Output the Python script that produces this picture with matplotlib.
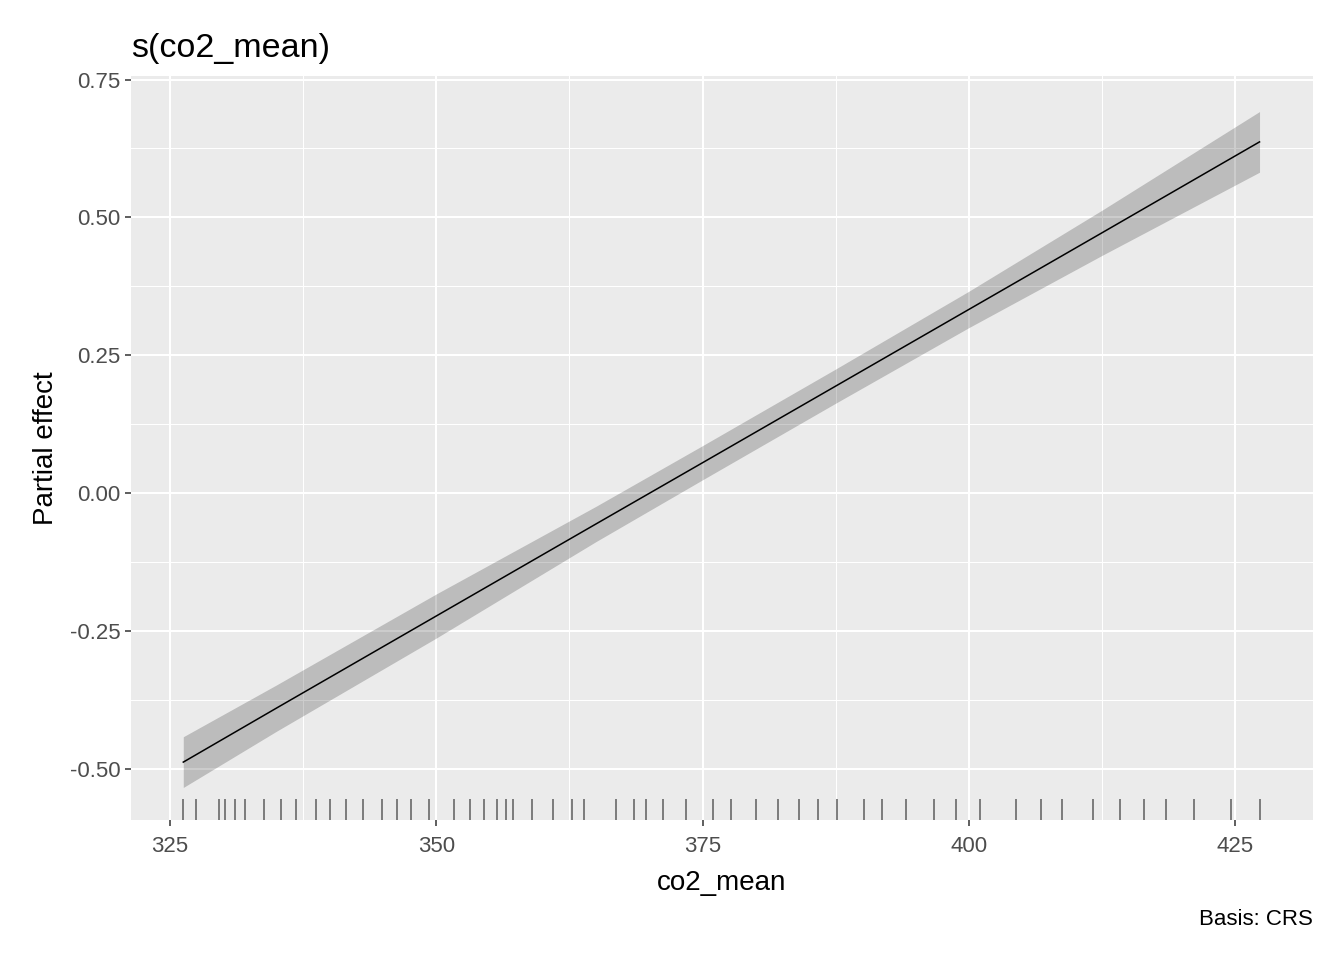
import numpy as np
import matplotlib
matplotlib.use("Agg")
import matplotlib.pyplot as plt
from matplotlib.ticker import MultipleLocator
import matplotlib.transforms as mtransforms

plt.rcParams["font.family"] = ["Liberation Sans", "DejaVu Sans"]

# smooth estimate s(co2_mean)
grid_x = [326.25, 335.0, 350.0, 365.0, 375.0, 387.5, 400.0, 412.5, 427.3]
fit = [-0.488, -0.390, -0.223, -0.056, 0.055, 0.194, 0.333, 0.472, 0.637]
half_ci = [0.046, 0.042, 0.040, 0.032, 0.031, 0.031, 0.033, 0.041, 0.055]

# observed co2_mean values (rug)
co2_obs = [326.25, 327.41, 329.63, 330.14, 331.08, 332.01, 333.80, 335.39,
           336.80, 338.74, 340.05, 341.50, 343.09, 344.88, 346.29, 347.60,
           349.29, 351.64, 353.14, 354.46, 355.68, 356.52, 357.18, 358.99,
           360.94, 362.72, 363.85, 366.85, 368.54, 369.69, 371.29, 373.42,
           375.96, 377.65, 379.99, 382.06, 384.03, 385.82, 387.60, 390.14,
           391.83, 394.08, 396.71, 398.78, 401.03, 404.41, 406.76, 408.73,
           411.64, 414.18, 416.43, 418.50, 421.12, 424.60, 427.32]

x_ticks = [325, 350, 375, 400, 425]
y_ticks = [-0.50, -0.25, 0.00, 0.25, 0.50, 0.75]

fig = plt.figure(figsize=(13.44, 9.6), dpi=100)
ax = fig.add_axes([131/1344, 1 - 820/960, (1313-131)/1344, (820-76)/960])
ax.set_facecolor("#EBEBEB")

gx = np.array(grid_x)
gf = np.array(fit)
gs = np.array(half_ci)
ax.fill_between(gx, gf - gs, gf + gs, color="black", alpha=0.2,
                linewidth=0, zorder=2)
ax.plot(gx, gf, color="black", linewidth=1.1, zorder=3)

trans = mtransforms.blended_transform_factory(ax.transData, ax.transAxes)
ax.vlines(co2_obs, 0, 0.028, transform=trans, color="#737373",
          linewidth=1.3, zorder=3)

ax.set_xlim(321.34, 432.32)
ax.set_ylim(-0.593, 0.7565)
ax.set_xticks(x_ticks)
ax.set_yticks(y_ticks)
ax.set_yticklabels([f"{v:.2f}" for v in y_ticks])
ax.xaxis.set_minor_locator(MultipleLocator(12.5))
ax.yaxis.set_minor_locator(MultipleLocator(0.125))
ax.grid(which="major", color="white", linewidth=1.5, zorder=0)
ax.grid(which="minor", color="white", linewidth=0.75, zorder=0)
ax.set_axisbelow(True)
for s in ax.spines.values():
    s.set_visible(False)

ax.tick_params(which="major", length=4.3, width=1.1, color="#333333",
               labelsize=16, labelcolor="#4D4D4D", pad=3)
ax.tick_params(axis="x", which="major", pad=7.5)
ax.tick_params(which="minor", length=0)

ax.set_xlabel("co2_mean", fontsize=20, labelpad=9)
ax.set_ylabel("Partial effect", fontsize=20, labelpad=8)
fig.text(131/1344, 1 - 57/960, "s(co2_mean)", fontsize=24.5, ha="left",
         va="baseline")
fig.text(1313/1344, 1 - 925/960, "Basis: CRS", fontsize=16, ha="right",
         va="baseline")

fig.savefig("out.png", dpi=100)
